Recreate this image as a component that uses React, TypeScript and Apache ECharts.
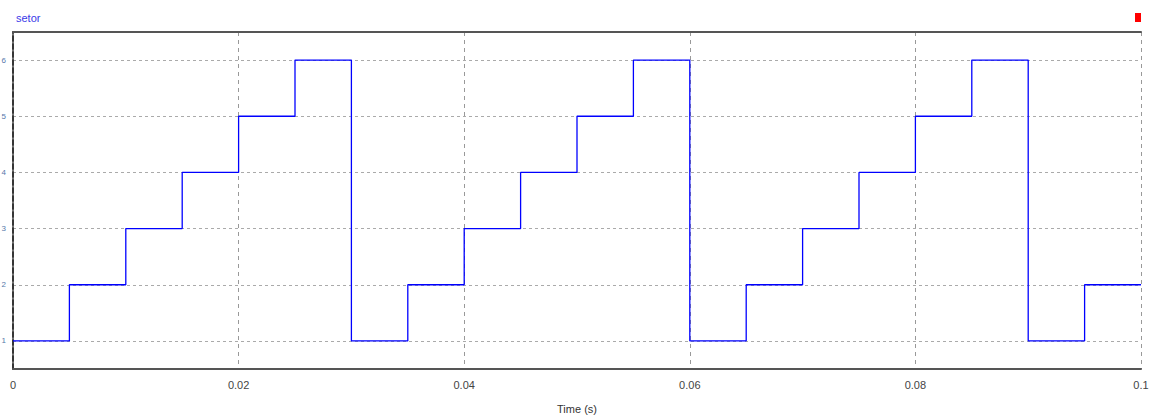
import React, { useEffect, useRef } from "react";
import * as echarts from "echarts";

const chartTitle = "setor";
const xAxisName = "Time (s)";
const stepTimes = [
  0, 0.005, 0.01, 0.015, 0.02, 0.025, 0.03, 0.035, 0.04, 0.045, 0.05, 0.055,
  0.06, 0.065, 0.07, 0.075, 0.08, 0.085, 0.09, 0.095, 0.1,
];
const sectorValues = [
  1, 2, 3, 4, 5, 6, 1, 2, 3, 4, 5, 6, 1, 2, 3, 4, 5, 6, 1, 2, 2,
];
const yMin = 0.5;
const yMax = 6.5;
const xMin = 0;
const xMax = 0.1;
const xInterval = 0.02;

export default function App() {
  const ref = useRef<HTMLDivElement>(null);
  useEffect(() => {
    if (!ref.current) return;
    const chart = echarts.init(ref.current, null, { renderer: "svg" });
    const data = stepTimes.map((t, i) => [t, sectorValues[i]]);
    chart.setOption({
      animation: false,
      backgroundColor: "#ffffff",
      textStyle: { fontFamily: "Liberation Sans, Arial, sans-serif" },
      title: {
        text: chartTitle,
        left: 11,
        top: 7,
        textStyle: { color: "#3a3ae8", fontSize: 11, fontWeight: "normal" },
      },
      graphic: [
        {
          type: "rect",
          right: 15,
          top: 13,
          shape: { width: 6, height: 9 },
          style: { fill: "#ff0000" },
        },
      ],
      grid: {
        left: 13,
        right: 15,
        top: 32,
        bottom: 50,
        containLabel: false,
        outerBoundsMode: "none",
      },
      xAxis: [
        {
          type: "value",
          min: xMin,
          max: xMax,
          interval: xInterval,
          name: xAxisName,
          nameLocation: "middle",
          nameGap: 34,
          nameTextStyle: { color: "#333", fontSize: 11 },
          axisLine: { show: true, onZero: false, lineStyle: { color: "#555", width: 2 } },
          axisTick: { show: false },
          axisLabel: { color: "#444", fontSize: 11, margin: 10 },
          splitLine: {
            show: true,
            lineStyle: { color: "#999", type: [4, 4], width: 1 },
          },
        },
        {
          type: "value",
          position: "top",
          min: xMin,
          max: xMax,
          interval: xInterval,
          axisLine: { show: true, lineStyle: { color: "#555", width: 2 } },
          axisTick: { show: false },
          axisLabel: { show: false },
          splitLine: { show: false },
        },
      ],
      yAxis: [
        {
          type: "value",
          min: yMin,
          max: yMax,
          splitNumber: 6,
          axisLine: { show: true, onZero: false, lineStyle: { color: "#777", width: 2 } },
          axisTick: { show: false },
          axisLabel: {
            color: "#5577aa",
            fontSize: 8,
            margin: 7,
            formatter: (v: number) => (Number.isInteger(v) ? String(v) : ""),
          },
          splitLine: {
            show: true,
            lineStyle: { color: "#aaa", type: [3, 3], width: 1 },
          },
        },
        {
          type: "value",
          position: "right",
          min: yMin,
          max: yMax,
          splitNumber: 6,
          axisLine: { show: true, lineStyle: { color: "#222", width: 1.5, type: [5, 3] } },
          axisTick: { show: false },
          axisLabel: { show: false },
          splitLine: { show: false },
        },
      ],
      series: [
        {
          type: "line",
          name: chartTitle,
          xAxisIndex: 0,
          yAxisIndex: 0,
          step: "end",
          data,
          symbol: "none",
          lineStyle: { color: "#0000ff", width: 1.3 },
        },
      ],
    });
    return () => chart.dispose();
  }, []);
  return (
    <div
      ref={ref}
      style={{ position: "absolute", left: 0, top: 0, width: 1156, height: 419 }}
    />
  );
}
